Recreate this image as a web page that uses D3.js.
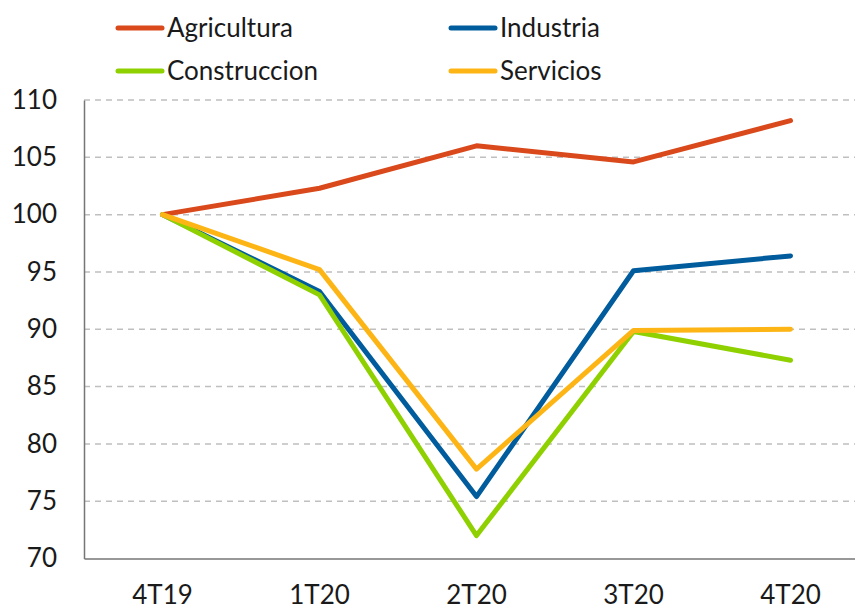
<!DOCTYPE html>
<html>
<head>
<meta charset="utf-8">
<script src="https://cdn.jsdelivr.net/npm/d3@7"></script>
<style>
  body { margin: 0; background: #fff; }
  text { font-family: Lato, "DejaVu Sans", sans-serif; fill: #1a1a1a; }
</style>
</head>
<body>
<svg width="855" height="608"></svg>
<script>
// trimestres
var quarters = ['4T19', '1T20', '2T20', '3T20', '4T20']
var yTicks = [70, 75, 80, 85, 90, 95, 100, 105, 110]

var agricultura  = [100, 102.3, 106.0, 104.6, 108.2]
var industria    = [100, 93.3, 75.4, 95.1, 96.4]
var construccion = [100, 93.0, 72.0, 89.8, 87.3]
var servicios    = [100, 95.2, 77.8, 89.9, 90.0]

var seriesNames  = ['Agricultura', 'Industria', 'Construccion', 'Servicios']
var seriesValues = [agricultura, industria, construccion, servicios]
var seriesColors = ['#d9491b', '#005c9c', '#8fd100', '#fdb515']

var svg = d3.select('svg')

var plotLeft = 84, plotRight = 869, plotTop = 100, plotBottom = 558.5

var x = d3.scaleBand()
  .domain(quarters)
  .range([plotLeft, plotRight])
  .padding(0)

var y = d3.scaleLinear()
  .domain([70, 110])
  .range([plotBottom, plotTop])

// grid
svg.append('g')
  .selectAll('line')
  .data(yTicks.filter(d => d > 70))
  .enter().append('line')
  .attr('x1', plotLeft)
  .attr('x2', 855)
  .attr('y1', d => y(d))
  .attr('y2', d => y(d))
  .attr('stroke', '#bfbfbf')
  .attr('stroke-width', 1.5)
  .attr('stroke-dasharray', '6,5')

// axes
var yAxis = svg.append('g')
  .attr('transform', 'translate(' + plotLeft + ',0)')
  .call(d3.axisLeft(y).tickValues(yTicks).tickSize(0).tickPadding(27))
yAxis.select('.domain').attr('stroke', '#767676').attr('stroke-width', 1.5)
yAxis.selectAll('text')
  .style('font-size', '26px')
  .attr('fill', '#1a1a1a')

var xAxis = svg.append('g')
  .attr('transform', 'translate(0,' + plotBottom + ')')
  .call(d3.axisBottom(x).tickSize(0).tickPadding(27))
xAxis.select('.domain').attr('stroke', '#767676').attr('stroke-width', 1.5)
xAxis.selectAll('text')
  .style('font-size', '26px')
  .attr('fill', '#1a1a1a')

// lines
var line = d3.line()
  .x((d, i) => x(quarters[i]) + x.bandwidth() / 2)
  .y(d => y(d))

svg.append('g')
  .selectAll('path')
  .data(seriesValues)
  .enter().append('path')
  .attr('d', d => line(d))
  .attr('fill', 'none')
  .attr('stroke', (d, i) => seriesColors[i])
  .attr('stroke-width', 5)
  .attr('stroke-linejoin', 'round')
  .attr('stroke-linecap', 'round')

// legend
var legend = svg.append('g')
  .selectAll('g')
  .data(seriesNames)
  .enter().append('g')
  .attr('transform', (d, i) => 'translate(' + (i % 2 ? 451 : 118) + ',' + (i < 2 ? 28 : 71) + ')')

legend.append('line')
  .attr('x1', 0).attr('x2', 44)
  .attr('stroke', (d, i) => seriesColors[i])
  .attr('stroke-width', 5)
  .attr('stroke-linecap', 'round')

legend.append('text')
  .attr('x', 49)
  .attr('dy', '0.35em')
  .style('font-size', '26px')
  .text(d => d)
</script>
</body>
</html>
